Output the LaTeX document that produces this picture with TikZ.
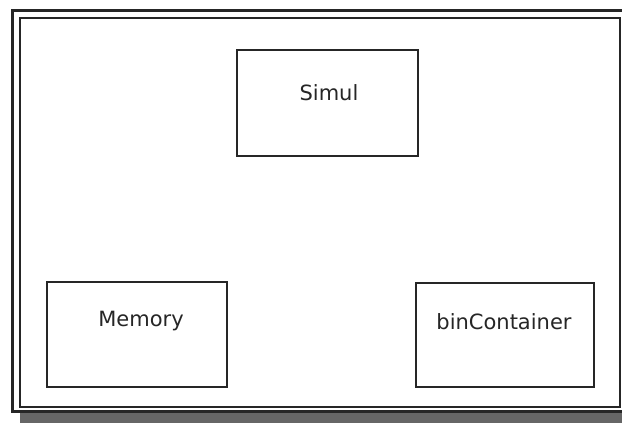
\documentclass[tikz,border=0pt]{standalone}
\usepackage{fontspec}
\setmainfont{DejaVu Sans}
\begin{document}
\begin{tikzpicture}[x=1pt,y=-1pt,
  classbox/.style={draw=black!85, line width=2pt, fill=white, minimum width=#1, minimum height=105pt, inner sep=0pt},
  classbox/.default=180pt,
  lbl/.style={font=\fontsize{21}{24}\selectfont, text=black!85}]
\useasboundingbox (0,0) rectangle (622,423);
\fill[white] (0,0) rectangle (622,423);
% shadow
\fill[black!60] (20,413) rectangle (622,423);
% outer frame (double line)
\begin{scope}
\clip (0,0) rectangle (622,423);
\draw[black!85, line width=2.5pt] (12.5,10.5) rectangle (640,411.5);
\draw[black!85, line width=2pt] (19.5,18) rectangle (620,406.5);
\end{scope}
% boxes
\node[classbox=181pt, minimum height=106pt] (simul) at (327.5,103) {};
\node[classbox=180pt, minimum height=105pt] (memory) at (137,334.5) {};
\node[classbox=178pt, minimum height=104pt] (bin) at (505,335) {};
\node[lbl] (simulT) at (329,93) {Simul};
\node[lbl] (memoryT) at (141,321) {Memory};
\node[lbl] (binT) at (504,322) {binContainer};
\end{tikzpicture}
\end{document}
